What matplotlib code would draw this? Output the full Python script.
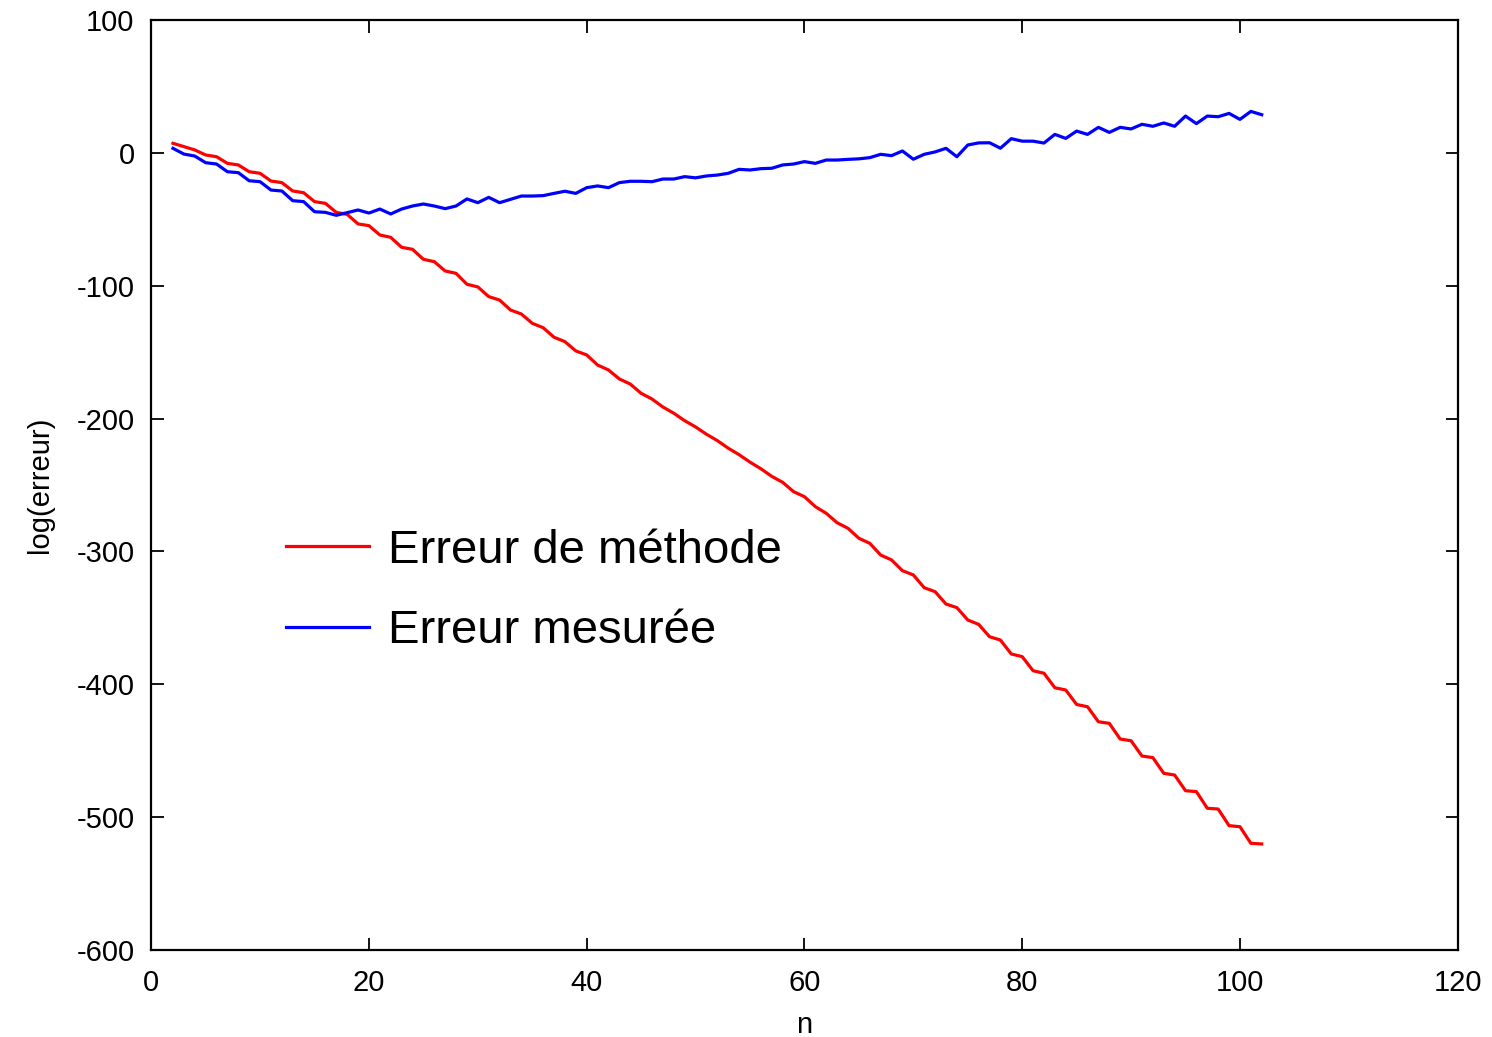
import matplotlib
matplotlib.use("Agg")
import matplotlib.pyplot as plt

plt.rcParams['font.family'] = ['Liberation Sans', 'DejaVu Sans']
plt.rcParams['axes.unicode_minus'] = False

n = list(range(2, 103))

erreur_methode = [
    7.2, 4.7, 2.2, -1.6, -2.9, -7.9, -9.1, -14.2, -15.4, -21.2,
    -22.4, -28.7, -30.0, -36.7, -38.0, -44.8, -46.3, -53.5, -54.8, -61.8,
    -63.6, -71.1, -72.6, -80.1, -81.9, -88.9, -90.7, -98.9, -100.9, -108.2,
    -110.8, -118.3, -121.3, -128.3, -131.6, -138.8, -142.1, -149.1, -152.1, -159.7,
    -163.4, -170.2, -174.0, -181.0, -185.3, -191.3, -196.0, -201.6, -206.3, -211.8,
    -216.6, -222.3, -227.2, -232.8, -237.8, -243.5, -248.0, -255.0, -258.8, -266.3,
    -271.3, -278.4, -282.6, -290.1, -293.9, -302.7, -306.4, -314.5, -317.7, -327.3,
    -330.3, -339.6, -342.3, -351.6, -354.9, -364.2, -366.7, -377.2, -379.2, -389.8,
    -391.7, -402.6, -404.3, -415.2, -416.9, -428.2, -429.4, -441.2, -442.5, -454.0,
    -455.2, -467.0, -468.3, -480.1, -480.8, -493.3, -493.9, -506.4, -507.2, -519.7,
    -520.2,
]

erreur_mesuree = [
    3.4, -0.9, -2.4, -7.4, -8.4, -14.2, -14.9, -21.0, -21.7, -28.0,
    -28.7, -36.0, -36.7, -44.3, -44.8, -47.0, -45.0, -43.0, -45.3, -42.3,
    -46.0, -42.3, -40.0, -38.5, -40.0, -42.0, -40.0, -34.7, -37.5, -33.5,
    -37.5, -35.0, -32.5, -32.5, -32.2, -30.5, -28.9, -30.5, -26.2, -24.9,
    -26.2, -22.4, -21.4, -21.4, -21.7, -19.7, -19.7, -17.9, -18.8, -17.4,
    -16.7, -15.4, -12.4, -12.9, -11.9, -11.6, -9.1, -8.4, -6.6, -7.9,
    -5.4, -5.4, -4.9, -4.5, -3.6, -1.1, -2.1, 1.4, -4.8, -1.1,
    0.7, 3.4, -2.9, 5.9, 7.5, 7.6, 3.5, 10.7, 8.8, 8.8,
    7.4, 13.9, 10.9, 16.4, 13.9, 19.2, 15.4, 19.2, 18.0, 21.5,
    20.0, 22.5, 20.0, 27.7, 22.0, 27.7, 27.2, 29.7, 25.2, 31.2,
    28.7,
]

x_ticks = [0, 20, 40, 60, 80, 100, 120]
y_ticks = [-600, -500, -400, -300, -200, -100, 0, 100]

W, H = 1492, 1037
fig = plt.figure(figsize=(W / 100, H / 100), dpi=100)
ax = fig.add_axes([151.2 / W, (H - 950) / H, 1306.5 / W, 930 / H])

ax.plot(n, erreur_methode, color='#ff0000', lw=2.3, label='Erreur de méthode')
ax.plot(n, erreur_mesuree, color='#0000ff', lw=2.3, label='Erreur mesurée')

ax.set_xlim(0, 120)
ax.set_ylim(-600, 100)
ax.set_xticks(x_ticks)
ax.set_yticks(y_ticks)
ax.tick_params(direction='in', length=9, width=1.3, labelsize=21,
               top=True, right=True)
ax.tick_params(axis='x', pad=14)
ax.tick_params(axis='y', pad=12)
for s in ax.spines.values():
    s.set_linewidth(1.6)

ax.set_xlabel('n', fontsize=21, labelpad=10)
ax.set_ylabel('log(erreur)', fontsize=21, labelpad=16)

leg = ax.legend(loc='upper left', bbox_to_anchor=(286 / W, 1 - 529 / H),
                bbox_transform=fig.transFigure, frameon=False, fontsize=34,
                handlelength=1.75, handletextpad=0.4, labelspacing=0.77,
                borderpad=0, borderaxespad=0)

fig.savefig('out.png', dpi=100)
